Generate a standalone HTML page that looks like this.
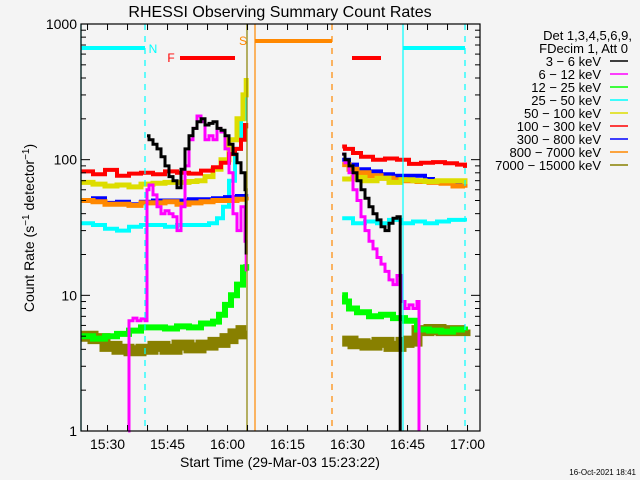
<!DOCTYPE html>
<html><head><meta charset="utf-8"><style>
html,body{margin:0;padding:0;background:#f4f4f4}
svg{display:block}
text{font-family:"Liberation Sans",sans-serif;fill:#000}
</style></head><body>
<svg id="chart" width="640" height="480" xmlns="http://www.w3.org/2000/svg">
<rect x="0" y="0" width="640" height="480" fill="#f4f4f4"/>
<text x="280" y="17" font-size="16" text-anchor="middle">RHESSI Observing Summary Count Rates</text>
<g id="marks"></g>
<g id="axes"></g>
<text transform="translate(34,228) rotate(-90)" font-size="14" text-anchor="middle">Count Rate (s<tspan font-size="10" dy="-5">−1</tspan><tspan dy="5"> detector</tspan><tspan font-size="10" dy="-5">−1</tspan><tspan dy="5">)</tspan></text>
<text x="280" y="467" font-size="14" text-anchor="middle">Start Time (29-Mar-03 15:23:22)</text>
<text x="636" y="475" font-size="8" text-anchor="end">16-Oct-2021 18:41</text>
<g id="legend"></g>
</svg>
<script>
// minutes after 15:23:22
const xTickLabels = ["15:30","15:45","16:00","16:15","16:30","16:45","17:00"];
const xTickMinutes = [6.633,21.633,36.633,51.633,66.633,81.633,96.633];
const yTickValues = [1,10,100,1000];
const yTickLabels = ["1","10","100","1000"];
const legendLabels = ["3 − 6 keV","6 − 12 keV","12 − 25 keV","25 − 50 keV","50 − 100 keV","100 − 300 keV","300 − 800 keV","800 − 7000 keV","7000 − 15000 keV"];
const legendColors = ["#000000","#ff00ff","#00ff00","#00ffff","#dddd00","#ff0000","#0000ff","#ff8800","#888000"];

// series: times (min) and values; null = gap
const tRed   = [0,3,6,9,12,15,18,21,24,27,30,33,35,37,38.5,40,41,41.3,null,65.3,66,68,70,73,76,79,82,85,88,91,94,96];
const vRed   = [82,78,84,76,79,80,78,82,80,79,83,88,95,110,120,140,180,170,null,125,120,112,105,100,102,100,93,95,96,94,92,87];
const tYel   = [0,3,6,9,12,15,18,21,24,27,29,31,33,35,37,39,40.5,41.3,null,65.3,68,71,74,77,80,83,86,89,92,96];
const vYel   = [68,66,64,65,63,66,67,68,68,69,70,75,85,100,140,200,300,400,null,72,74,70,73,68,71,70,69,70,70,66];
const tOra   = [0,3,6,9,12,15,18,21,24,27,30,33,36,39,41.3,null,65.3,67,69,72,75,78,81,84,87,90,93,96];
const vOra   = [50,49,47,47,46,48,48,49,47,48,49,50,50,51,50,null,92,85,80,76,73,71,70,69,68,67,64,62];
const tBlu   = [0,3,6,9,12,15,18,21,24,27,30,33,36,39,41.3,null,65.3,67,69,72,75,78,81,84,86,88,91,94,96];
const vBlu   = [50,52,48,49,47,49,50,50,50,51,51,52,53,54,52,null,100,92,85,82,78,76,76,76,72,69,70,68,67];
const tCya   = [0,3,6,9,12,15,18,21,24,27,30,32,34,35.5,37,38.5,40,41,41.3,null,65.3,68,71,74,77,80,83,86,89,92,96];
const vCya   = [34,33,31,30,32,33,33,32,33,33,33,34,37,45,70,120,200,300,380,null,37,34,35,34,36,34,35,34,35,36,35];
const tGrn   = [0,3,6,9,12,15,18,21,24,27,30,33,34.5,36,37.5,39,40.5,41.3,null,65.3,66,67,69,72,75,78,81,84,87,90,93,96];
const vGrn   = [5,4.8,5,5.2,5.5,5.8,5.8,5.7,5.9,5.8,6.2,6.4,7.2,8.5,10,12,16,17,null,10,9,8,7.5,7,7.2,6.8,6.5,5.6,5.5,5.4,5.6,5.5];
const tOli   = [0,3,6,9,12,15,18,21,24,27,30,33,36,38,40,41.3,null,65.3,68,71,74,77,80,82,84,87,90,93,96];
const vOli   = [5,4.8,4.2,4,3.9,4,4.2,4,4.3,4.1,4.3,4.5,4.8,5.2,5.5,5.5,null,4.6,4.4,4.3,4.5,4.2,4.5,4.6,5.5,5.6,5.5,5.5,5.6];
const tBlk   = [16.5,17,18,19,20,21,22,23,24,25,26,27,28,29,30,31,32,33,34,35,36,37,38,39,40,41,41.3,null,65.3,66,67,68,69,70,71,72,73,74,75,76,77,78,79,79.8];
const vBlk   = [150,140,130,120,105,90,75,70,62,85,120,150,170,190,200,180,185,190,170,165,150,130,110,95,80,60,20,null,110,100,90,80,70,60,52,45,40,36,32,30,34,37,38,1];
const tMag   = [11.8,12,13,14,15,16,16.4,16.5,17,18,19,20,21,22,23,24,25,26,27,28,29,30,31,32,33,34,35,36,37,38,39,40,41,41.3,null,65.3,66,67,68,69,70,71,72,73,74,75,76,77,78,79,80,81,82,83,84,84.5];
const vMag   = [1,6.5,6.8,6.5,6.7,6.5,6.5,60,65,55,45,40,42,40,38,30,45,90,140,170,210,190,140,150,140,170,160,120,80,40,30,45,25,15,null,110,95,80,60,50,38,30,25,22,19,17,15,13,12,14,9,8,8.5,8,9,1];
const series = [
 [tBlk,vBlk,0],[tMag,vMag,1],[tGrn,vGrn,2],[tCya,vCya,3],[tYel,vYel,4],[tRed,vRed,5],[tBlu,vBlu,6],[tOra,vOra,7],[tOli,vOli,8]
];
const strokeW = [3,3,6,4,5,4,4,5,11];

const X0=81,X1=480,Y0=24,Y1=431,TMAX=(X1-X0)/4;
function xs(t){return X0+t*4;}
function ys(v){return Y1-(Y1-Y0)*Math.log10(Math.max(v,1))/3;}
const NS="http://www.w3.org/2000/svg";
function mk(tag,attrs,parent){const e=document.createElementNS(NS,tag);for(const k in attrs)e.setAttribute(k,attrs[k]);parent.appendChild(e);return e;}
const marks=document.getElementById('marks'),axes=document.getElementById('axes'),legend=document.getElementById('legend');

const order=[8,2,3,6,7,4,5,1,0];
order.forEach(function(ci){
  const s=series.find(function(q){return q[2]===ci;});
  let d="",pen=false;
  for(let i=0;i<s[0].length;i++){
    if(s[0][i]===null){pen=false;continue;}
    const x=xs(s[0][i]),y=ys(s[1][i]);
    if(!pen){d+="M"+x.toFixed(1)+" "+y.toFixed(1);pen=true;}
    else d+="H"+x.toFixed(1)+"V"+y.toFixed(1);
  }
  const p=mk('path',{d:d,fill:"none",stroke:legendColors[ci],"stroke-width":strokeW[ci]},marks);
  
  
});

const vlines=[[0,"#00ffff",""],[16,"#00ffff","6,6"],[41.5,"#888000",""],[43.5,"#ff8800",""],[62.75,"#ff8800","6,6"],[80.5,"#00ffff",""],[96,"#00ffff","6,6"]];
vlines.forEach(function(v){
  const l=mk('line',{x1:xs(v[0]),x2:xs(v[0]),y1:Y0,y2:Y1,stroke:v[1],"stroke-width":1.2,"stroke-dasharray":v[2]},marks);
  
  
});
const bars=[[0,16,48,"#00ffff"],[80.5,96,48,"#00ffff"],[43.5,62.75,41,"#ff8800"],[24.75,38.5,58,"#ff0000"],[67.75,75,58,"#ff0000"]];
bars.forEach(function(b){
  const r=mk('line',{x1:xs(b[0]),x2:xs(b[1]),y1:b[2],y2:b[2],stroke:b[3],"stroke-width":4},marks);
  
  
});
const flagLbl=[["N",153,53,"#00ffff"],["F",171,62,"#ff0000"],["S",243,45,"#ff8800"]];
flagLbl.forEach(function(f){
  const t=mk('text',{x:f[1],y:f[2],"font-size":12,"text-anchor":"middle",style:"fill:"+f[3]},marks);
  t.textContent=f[0];
  
  
});

const fr=mk('rect',{x:X0,y:Y0,width:X1-X0,height:Y1-Y0,fill:"none",stroke:"#000","stroke-width":1.2},axes);


for(let t=1.633;t<TMAX;t+=5){
  const x=xs(t);
  mk('line',{x1:x,x2:x,y1:Y1,y2:Y1-6,stroke:"#000"},axes);
  mk('line',{x1:x,x2:x,y1:Y0,y2:Y0+6,stroke:"#000"},axes);
}
xTickLabels.forEach(function(lab,i){
  const t=mk('text',{x:xs(xTickMinutes[i]),y:449,"font-size":14,"text-anchor":"middle"},axes);
  t.textContent=lab;
  
  
});
for(let d=0;d<3;d++){for(let m=2;m<10;m++){const y=ys(m*Math.pow(10,d));
  mk('line',{x1:X0,x2:X0+5,y1:y,y2:y,stroke:"#000"},axes);mk('line',{x1:X1,x2:X1-5,y1:y,y2:y,stroke:"#000"},axes);}}
yTickValues.forEach(function(v,i){
  const y=ys(v);
  mk('line',{x1:X0,x2:X0+9,y1:y,y2:y,stroke:"#000"},axes);mk('line',{x1:X1,x2:X1-9,y1:y,y2:y,stroke:"#000"},axes);
  const t=mk('text',{x:X0-4,y:y+5,"font-size":14,"text-anchor":"end"},axes);
  t.textContent=yTickLabels[i];
  
  
});
const h1=mk('text',{x:632,y:40,"font-size":13,"text-anchor":"end"},legend);h1.textContent="Det 1,3,4,5,6,9,";


const h2=mk('text',{x:628,y:53,"font-size":13,"text-anchor":"end"},legend);h2.textContent="FDecim 1, Att 0";


legendLabels.forEach(function(lab,i){
  const y=61+i*13;
  const t=mk('text',{x:601,y:y+5,"font-size":13,"text-anchor":"end"},legend);
  t.textContent=lab;
  
  
  const l=mk('line',{x1:610,x2:628,y1:y,y2:y,stroke:legendColors[i],"stroke-width":1.5},legend);
  
  
});
</script>
</body></html>
